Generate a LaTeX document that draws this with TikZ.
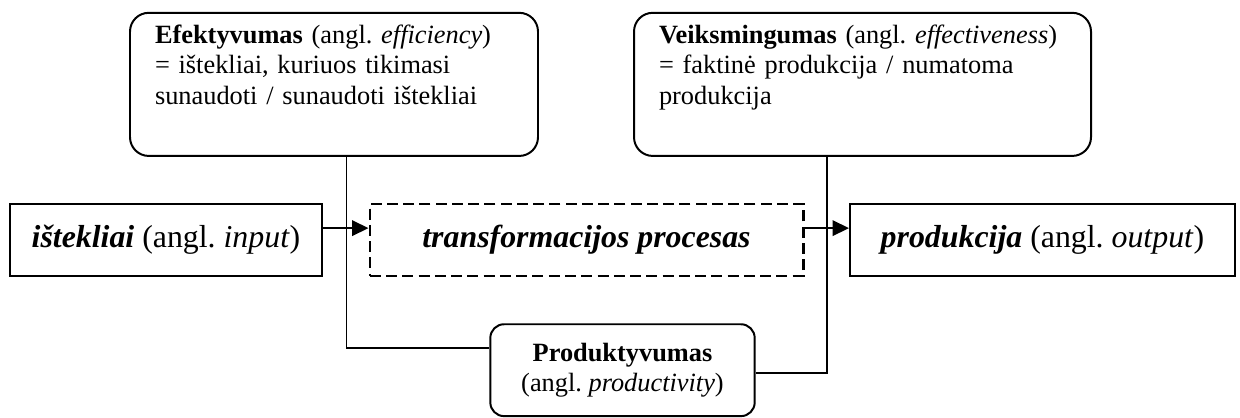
\documentclass[tikz,border=0pt]{standalone}
\usepackage{fontspec}
\setmainfont{Liberation Serif}
\frenchspacing
\usetikzlibrary{arrows.meta}

\begin{document}
\begin{tikzpicture} [
        line width=0.9pt,
        measure box/.style={draw, rounded corners=0.3cm, align=left, inner xsep=0.4cm, minimum height=2.29cm, font=\fontsize{12}{13.8}\selectfont},
        flow box/.style={draw, minimum height=1.15cm, font=\fontsize{14.5}{17}\selectfont},
        process box/.style={flow box, line width=1.3pt, dash pattern=on 5pt off 2.4pt},
        ratio box/.style={draw, rounded corners=0.22cm, align=center, minimum width=4.23cm, minimum height=1.47cm, font=\fontsize{12}{14}\selectfont},
        flow/.style={-{Triangle[length=7.5pt, width=7pt]}, line width=1.1pt}
    ]

    \useasboundingbox (0, 0) rectangle (19.84, 6.672);

    \node[measure box, text width=5.728cm] (efficiency) at (5.344, 5.322) {\textbf{Efektyvumas} (angl. \textit{efficiency})\\= ištekliai, kuriuos tikimasi\\sunaudoti / sunaudoti ištekliai\\\strut};
    \node[measure box, text width=6.512cm] (effectiveness) at (13.80, 5.322) {\textbf{Veiksmingumas} (angl. \textit{effectiveness})\\= faktinė produkcija / numatoma\\produkcija\\\strut};

    \node[flow box, minimum width=4.99cm] (input) at (2.656, 2.832) {\textbf{\textit{ištekliai}} (angl. \textit{input})};
    \node[process box, minimum width=6.93cm] (process) at (9.384, 2.832) {\textbf{\textit{transformacijos procesas}}};
    \node[flow box, minimum width=6.16cm] (output) at (16.68, 2.832) {\textbf{\textit{produkcija}} (angl. \textit{output})};

    \node[ratio box] (productivity) at (9.96, 0.749) {\textbf{Produktyvumas}\\(angl. \textit{productivity})};

    \draw ([xshift=0.2cm]efficiency.south) |- ([yshift=0.35cm]productivity.west);
    \draw ([xshift=-0.57cm]effectiveness.south) |- ([yshift=-0.05cm]productivity.east);

    \draw[flow] ([yshift=0.19cm]input.east) -- ([yshift=0.19cm]process.west);
    \draw[flow] ([yshift=0.19cm]process.east) -- ([yshift=0.19cm]output.west);

\end{tikzpicture}
\end{document}
